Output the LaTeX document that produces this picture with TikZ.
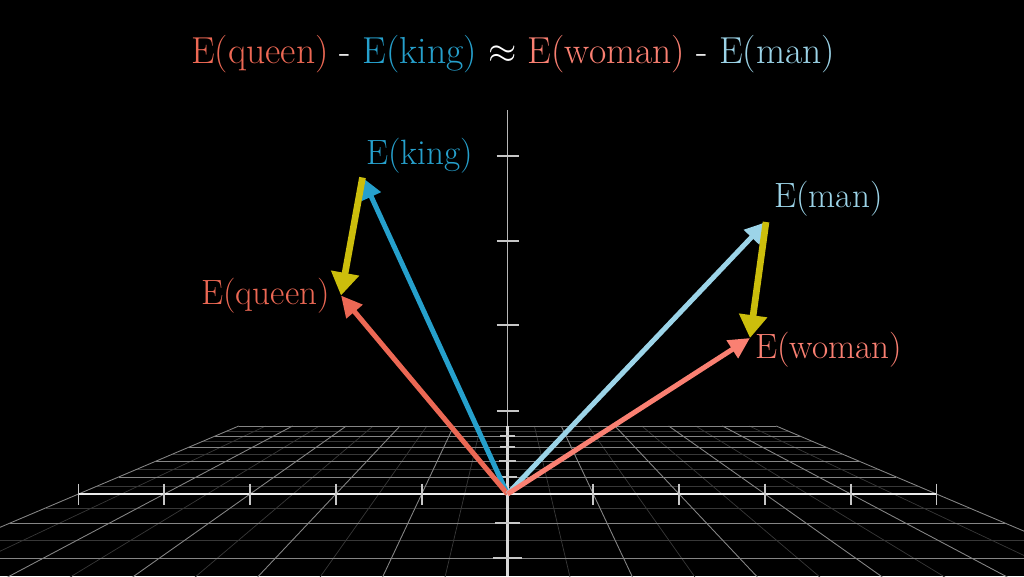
\documentclass[tikz,border=0pt]{standalone}
\usetikzlibrary{arrows.meta}
\definecolor{queen}{RGB}{236,104,84}
\definecolor{king}{RGB}{38,160,204}
\definecolor{woman}{RGB}{250,128,114}
\definecolor{man}{RGB}{156,212,232}
\definecolor{diffyellow}{RGB}{204,190,12}
\begin{document}
\begin{tikzpicture}[x=0.02cm, y=-0.02cm,
        gridmajor/.style={draw=white!52!black, line width=0.5pt},
        gridminor/.style={draw=white!22!black, line width=0.4pt},
        xaxis/.style={line width=1.4pt, white!92!black},
        zaxis/.style={line width=1.1pt, white!72!black},
        yaxis/.style={line width=1.3pt, white!85!black},
        tick/.style={line width=1pt, white!78!black},
        vec/.style={line width=2.85pt, -{Triangle[length=12pt, width=11.5pt]}},
        diff/.style={line width=3.8pt, diffyellow, -{Triangle[length=13pt, width=15.5pt]}},
        lbl/.style={anchor=base west, inner sep=0pt, font=\fontsize{20}{22}\selectfont}]
    \fill[black] (0,0) rectangle (1024,576);
    \useasboundingbox (0,0) rectangle (1024,576);
    % Floor grid
    \begin{scope}
        \clip (0,0) rectangle (1024,576);
        \foreach \yy in {431,441.5,454,469,486,508,540} {
                \draw[gridminor] ({507.5-(429/182)*(\yy-312)},\yy) -- ({507.5+(429/182)*(\yy-312)},\yy);
            }
        \foreach \xx in {-4.5,-3.5,...,4.5} {
                \draw[gridminor] ({507.5+85.8*\xx*(114/182)},426) -- ({507.5+85.8*\xx*(300/182)},612);
            }
        \foreach \yy in {426,436,447,461,477,523,558} {
                \draw[gridmajor] ({507.5-(429/182)*(\yy-312)},\yy) -- ({507.5+(429/182)*(\yy-312)},\yy);
            }
        \foreach \xx in {-5,-4,-3,-2,-1,1,2,3,4,5} {
                \draw[gridmajor] ({507.5+85.8*\xx*(114/182)},426) -- ({507.5+85.8*\xx*(300/182)},612);
            }
    \end{scope}
    % Axes
    \coordinate (O) at (507.5,494);
    \draw[zaxis] (507.5,110) -- (O);
    \draw[yaxis] (507.5,426) -- (507.5,576);
    \draw[xaxis] (78.5,494) -- (936.5,494);
    % Ticks
    \foreach \x in {-5,-4,-3,-2,-1,1,2,3,4,5} {
            \draw[tick] ({507.5+85.8*\x},483.5) -- ({507.5+85.8*\x},504.5);
        }
    \foreach \z in {156,241,325,411} {
            \draw[tick] (496.5,\z) -- (518.5,\z);
        }
    \foreach \yy in {436,447,461,477,523,558} {
            \draw[tick] ({507.5-(10.5/182)*(\yy-312)},\yy) -- ({507.5+(10.5/182)*(\yy-312)},\yy);
        }
    % Embedding vectors
    \coordinate (K) at (362.5,177.5);
    \coordinate (Q) at (341,295.5);
    \coordinate (M) at (766,222);
    \coordinate (W) at (750,338);
    \draw[vec, king] (O) -- (K);
    \draw[vec, queen] (O) -- (Q);
    \draw[vec, man] (O) -- (M);
    \draw[vec, woman] (O) -- (W);
    \draw[diff] (K) -- (Q);
    \draw[diff] (M) -- (W);
    % Labels
    \node[lbl, king] (lking) at (366,164) {E(king)};
    \node[lbl, queen] (lqueen) at (201,304) {E(queen)};
    \node[lbl, man] (lman) at (774,207) {E(man)};
    \node[lbl, woman] (lwoman) at (755,358) {E(woman)};
    \node[anchor=base, inner sep=0pt, white, font=\fontsize{21.4}{24}\selectfont] (title) at (513,63)
        {\textcolor{queen}{E(queen)} - \textcolor{king}{E(king)} $\approx$ \textcolor{woman}{E(woman)} - \textcolor{man}{E(man)}};
\end{tikzpicture}
\end{document}
